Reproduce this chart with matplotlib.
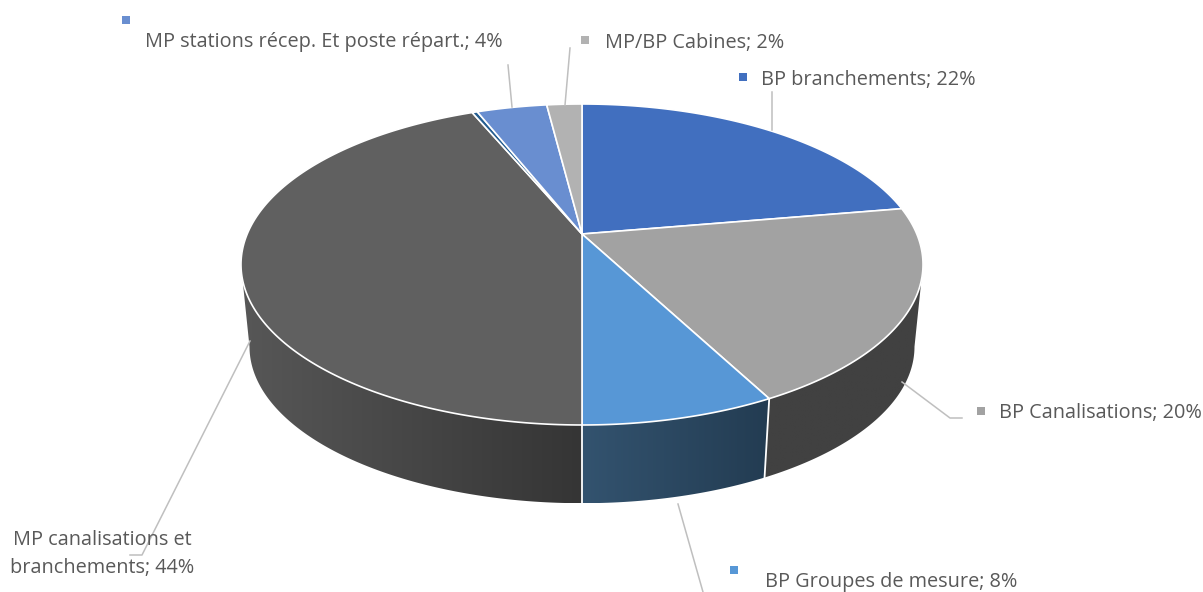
import numpy as np
import matplotlib
matplotlib.use("Agg")
import matplotlib.pyplot as plt
from matplotlib.colors import to_rgb
from matplotlib.patches import Polygon

plt.rcParams['font.family'] = ['Open Sans', 'DejaVu Sans']

#Slices, clockwise from 12 o'clock
categories = ["BP branchements", "BP Canalisations", "BP Groupes de mesure",
              "MP canalisations et\nbranchements", "MP autres",
              "MP stations récep. Et poste répart.", "MP/BP Cabines"]
values = [22.3, 20.0, 7.7, 43.7, 0.3, 4.0, 2.0]
shown_percent = ["22%", "20%", "8%", "44%", None, "4%", "2%"]

top_colors = ["#416fbf", "#a2a2a2", "#5797d6", "#606060", "#255e91", "#698ed0", "#b2b2b2"]
wall_left = [None, "#414141", "#33536f", "#575757", None, None, None]
wall_right = [None, "#414141", "#233c52", "#353535", None, None, None]
text_color = "#595959"
leader_color = "#bfbfbf"

#Text anchor (left edge or centre, y), square marker, leader line, per slice
label_xy = [(761, 80), (999, 413), (765, 582), (102, 554), None, (145, 42), (605, 43)]
marker_xy = [(743, 77), (981, 411), (734, 570), None, None, (126, 20), (585, 40)]
leaders = [[(772, 92), (772, 130)],
           [(902, 382), (950, 418), (962, 418)],
           [(678, 504), (703, 592)],
           [(250, 341), (142, 555), (130, 555)],
           None,
           [(508, 65), (512, 107)],
           [(570, 48), (565, 105)]]

#Perspective of the disc, in pixels
apex_x, apex_y = 582, 234
persp = 0.19
a = 334.8
b = 154.7
wall_scale = 0.975
wall_drop = 83


def rim(angle, scale=1.0, drop=0.0):
    #angle in radians, clockwise from the top of the disc
    x = np.sin(angle)
    y = np.cos(angle)
    w = 1 + persp * y
    return apex_x + scale * a * x / w, apex_y - scale * b * y / w + drop


fig = plt.figure(figsize=(12.03, 5.92), dpi=100)
ax = fig.add_axes([0, 0, 1, 1])

edges = np.concatenate([[0], np.cumsum(values)]) / np.sum(values) * 2 * np.pi

#The wall is only seen between the two points where the rim is widest
tangent = np.arccos(-persp)

#Side wall first, the top face hides whatever is behind it
for i in range(len(values)):
    if wall_left[i] is None:
        continue
    start = max(edges[i], tangent)
    end = min(edges[i + 1], 2 * np.pi - tangent)
    t = np.linspace(start, end, 200)
    tx, ty = rim(t)
    bx, by = rim(t, wall_scale, wall_drop)
    xs = np.concatenate([tx, bx[::-1]])
    ys = np.concatenate([ty, by[::-1]])
    ramp = np.linspace(0, 1, 256)[:, None]
    c0, c1 = np.array(to_rgb(wall_left[i])), np.array(to_rgb(wall_right[i]))
    gradient = (c0 * (1 - ramp) + c1 * ramp)[None, :, :]
    im = ax.imshow(gradient, extent=(xs.min(), xs.max(), ys.max(), ys.min()),
                   aspect='auto', zorder=1, interpolation='bilinear')
    im.set_clip_path(Polygon(np.column_stack([xs, ys]), transform=ax.transData))

#White seams on the wall
for e in edges[1:-1]:
    if tangent < e < 2 * np.pi - tangent:
        tx, ty = rim(e)
        bx, by = rim(e, wall_scale, wall_drop)
        ax.plot([tx, bx], [ty, by], color='white', lw=1.3, zorder=2)

#Top face
for i in range(len(values)):
    t = np.linspace(edges[i], edges[i + 1], 200)
    x, y = rim(t)
    ax.fill(np.r_[apex_x, x], np.r_[apex_y, y], facecolor=top_colors[i],
            edgecolor='white', lw=1.2, zorder=3, joinstyle='round')

#Labels
for i, name in enumerate(categories):
    if shown_percent[i] is None:
        continue
    text = name + "; " + shown_percent[i]
    if marker_xy[i] is None:
        ax.text(label_xy[i][0], label_xy[i][1], text, ha='center', va='center',
                color=text_color, fontsize=14.3, linespacing=1.5, zorder=5)
    else:
        ax.text(label_xy[i][0], label_xy[i][1], text, ha='left', va='center',
                color=text_color, fontsize=14.3, zorder=5)
        ax.plot(*marker_xy[i], marker='s', ms=5.5, mew=0, color=top_colors[i], zorder=5)
    lx, ly = zip(*leaders[i])
    ax.plot(lx, ly, color=leader_color, lw=1.1, zorder=4)

ax.set_xlim(0, 1203)
ax.set_ylim(592, 0)
ax.axis('off')
fig.savefig("out.png", dpi=100, facecolor='white')
